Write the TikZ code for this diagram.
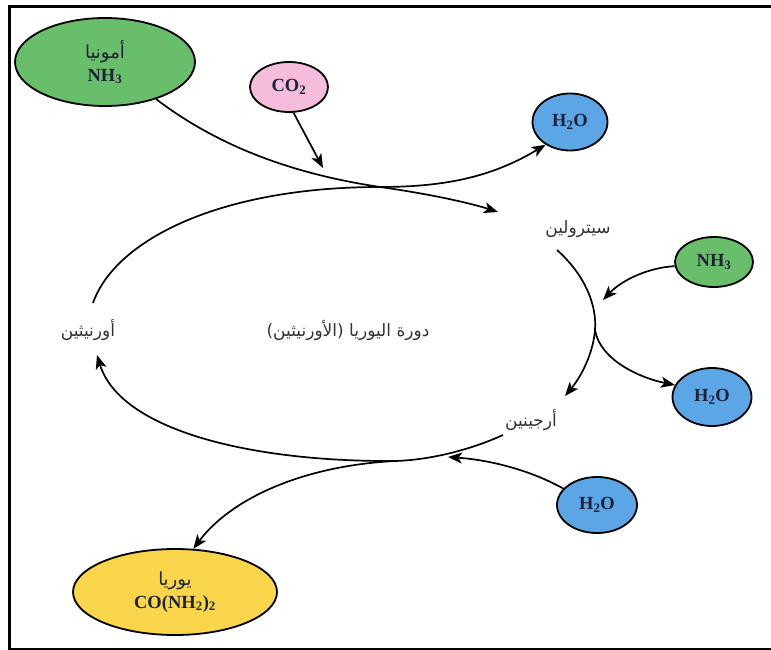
\documentclass[tikz,border=0pt]{standalone}
\usepackage{fontspec}
\setmainfont{Liberation Serif}
\newfontfamily\arabicfont[Script=Arabic]{DejaVu Sans}
\TeXXeTstate=1
\usetikzlibrary{arrows.meta,shapes.geometric}
\definecolor{ammgreen}{HTML}{69BE6B}
\definecolor{copink}{HTML}{F5BCDC}
\definecolor{wblue}{HTML}{5CA6E6}
\definecolor{ureay}{HTML}{F8D54B}
\definecolor{chemtxt}{HTML}{1E2238}
\tikzset{
  blob/.style={ellipse, draw=black, line width=1.8pt, inner sep=0pt, align=center,
    font=\bfseries\fontsize{18.5}{23}\selectfont, text=chemtxt},
  flow/.style={line width=1.7pt, -{Stealth[length=14pt,width=11pt,inset=3.5pt]}},
  plainline/.style={line width=1.7pt},
  artxt/.style={font=\arabicfont\fontsize{17}{20}\selectfont, text=black!80},
}
\newcommand{\arline}[1]{{\mdseries\arabicfont\fontsize{18}{23}\selectfont\beginR #1\endR}}
\begin{document}
\begin{tikzpicture}[x=1pt,y=-1pt]
\useasboundingbox (0,0) rectangle (771,650);
% frame
\draw[line width=3pt] (8,6.5) -- (771,6.5);
\draw[line width=3pt] (9.5,5) -- (9.5,650);
\draw[line width=2pt] (8,649) -- (771,649);

% nodes
\node[blob, fill=ammgreen, minimum width=180pt, minimum height=88pt] (amm) at (105,62)
  {\arline{أمونيا}\\NH\textsubscript{3}};
\node[blob, fill=copink, minimum width=78pt, minimum height=50pt] (co2) at (289,87) {CO\textsubscript{2}};
\node[blob, fill=wblue, minimum width=75pt, minimum height=57pt] (wtop) at (570,122) {H\textsubscript{2}O};
\node[blob, fill=ammgreen, minimum width=78pt, minimum height=50pt] (nh3) at (714,262) {NH\textsubscript{3}};
\node[blob, fill=wblue, minimum width=79pt, minimum height=58pt] (wright) at (712,397) {H\textsubscript{2}O};
\node[blob, fill=wblue, minimum width=80pt, minimum height=56pt] (wbot) at (597,505) {H\textsubscript{2}O};
\node[blob, fill=ureay, minimum width=204pt, minimum height=86pt] (urea) at (175,592)
  {\arline{يوريا}\\CO(NH\textsubscript{2})\textsubscript{2}};

\node[artxt] (cit) at (578,229) {\beginR سيترولين\endR};
\node[artxt] (arg) at (531,420) {\beginR أرجينين\endR};
\node[artxt] (orn) at (88,330) {\beginR أورنيثين\endR};
\node[artxt] (cycle) at (348,330) {\beginR دورة اليوريا (الأورنيثين)\endR};

% coordinates
\coordinate (m1) at (380,187);
\coordinate (citin) at (498,212);
\coordinate (co2tip) at (323,168);
\coordinate (ornout) at (93,303);
\coordinate (citout) at (557,250);
\coordinate (split) at (595,330);
\coordinate (argin) at (565,396);
\coordinate (nh3tip) at (603,300);
\coordinate (argout) at (503,435);
\coordinate (m2) at (395,461);
\coordinate (ornin) at (97,355);
\coordinate (wbtip) at (448,457);

% connectors
\draw[plainline] (amm.-36) .. controls (210,140) and (280,172) .. (m1);
\draw[flow] (m1) .. controls (430,194) and (470,203) .. (citin);
\draw[flow] (co2.-80) -- (co2tip);
\draw[plainline] (ornout) .. controls (115,240) and (220,187) .. (m1);
\draw[flow] (m1) .. controls (450,187) and (495,175) .. (wtop.-137);

\draw[plainline] (citout) .. controls (585,275) and (597,305) .. (split);
\draw[flow] (split) .. controls (593,355) and (580,378) .. (argin);
\draw[flow] (split) .. controls (600,360) and (640,378) .. (wright.162);
\draw[flow] (nh3.186) .. controls (645,268) and (620,282) .. (nh3tip);

\draw[plainline] (argout) .. controls (470,450) and (430,460) .. (m2);
\draw[flow] (m2) .. controls (250,462) and (120,430) .. (ornin);
\draw[flow] (m2) .. controls (300,466) and (230,500) .. (urea.67);
\draw[flow] (wbot.154) .. controls (530,470) and (490,460) .. (wbtip);
\end{tikzpicture}
\end{document}
